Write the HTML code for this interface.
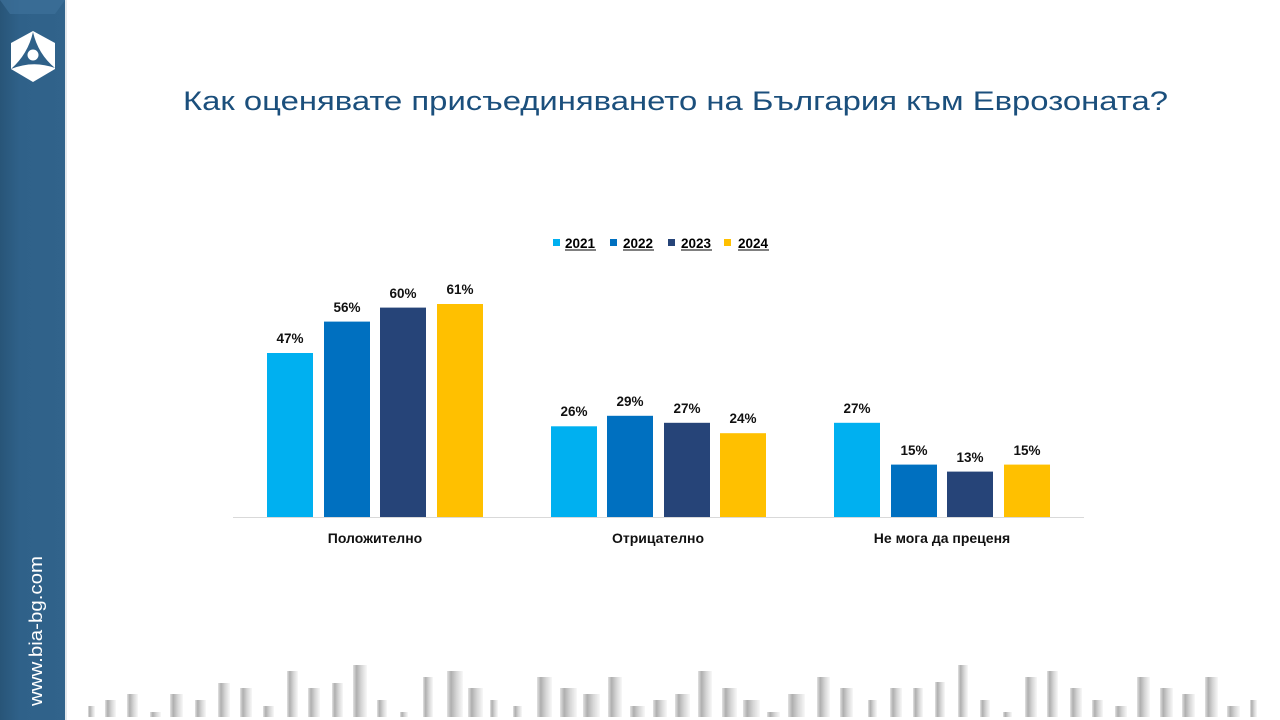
<!DOCTYPE html>
<html><head><meta charset="utf-8"><style>
html,body{margin:0;padding:0;background:#fff;}
svg{display:block;}
text{font-family:"Liberation Sans","Noto Sans CJK SC",sans-serif;}
</style></head><body>
<svg width="1280" height="720" viewBox="0 0 1280 720" xmlns="http://www.w3.org/2000/svg">
<defs>
<linearGradient id="side" x1="0" x2="1" y1="0" y2="0">
<stop offset="0" stop-color="#285578"/><stop offset="0.3" stop-color="#2f6189"/><stop offset="1" stop-color="#31638b"/>
</linearGradient>
<linearGradient id="dec" x1="0" x2="1" y1="0" y2="0">
<stop offset="0" stop-color="#e2e2e2"/><stop offset="0.25" stop-color="#afafaf"/><stop offset="0.6" stop-color="#d6d6d6"/><stop offset="1" stop-color="#f8f8f8"/>
</linearGradient>
</defs>
<rect x="0" y="0" width="1280" height="720" fill="#fff"/>
<rect x="0" y="0" width="65" height="720" fill="url(#side)"/>
<polygon points="0,0 65,0 55,14 10,14" fill="#3d709a" opacity="0.7"/>
<rect x="65" y="0" width="2" height="720" fill="#e4e8ec"/>
<polygon points="33,31 55,43 55,69 33,82 11,69 11,43" fill="#fff"/>
<path d="M33,32 Q38,54 55,68 Q33,60 11,69 Q28,54 33,32 Z" fill="#2f6189"/>
<circle cx="33" cy="55" r="5.5" fill="#fff"/>
<text transform="translate(42,706) rotate(-90)" font-size="18" fill="#fff" textLength="150" lengthAdjust="spacingAndGlyphs">www.bia-bg.com</text>
<text x="183" y="110" font-size="27" fill="#1b4f7c" textLength="985" lengthAdjust="spacingAndGlyphs">Как оценявате присъединяването на България към Еврозоната?</text>
<g font-size="13.5" font-weight="bold" fill="#000">
<rect x="553" y="239" width="7" height="7" fill="#00b0f0"/><text x="565" y="248">2021</text><rect x="565" y="249.5" width="31" height="1" fill="#000"/>
<rect x="610" y="239" width="7" height="7" fill="#0070c0"/><text x="623" y="248">2022</text><rect x="623" y="249.5" width="31" height="1" fill="#000"/>
<rect x="668" y="239" width="7" height="7" fill="#264478"/><text x="681" y="248">2023</text><rect x="681" y="249.5" width="31" height="1" fill="#000"/>
<rect x="724" y="239" width="7" height="7" fill="#ffc000"/><text x="738" y="248">2024</text><rect x="738" y="249.5" width="31" height="1" fill="#000"/>
</g>
<g>
<rect x="267" y="353" width="46" height="164" fill="#00b0f0"/>
<rect x="324" y="321.6" width="46" height="195.4" fill="#0070c0"/>
<rect x="380" y="307.6" width="46" height="209.4" fill="#264478"/>
<rect x="437" y="304" width="46" height="213" fill="#ffc000"/>
<rect x="551" y="426.3" width="46" height="90.7" fill="#00b0f0"/>
<rect x="607" y="415.8" width="46" height="101.2" fill="#0070c0"/>
<rect x="664" y="422.8" width="46" height="94.2" fill="#264478"/>
<rect x="720" y="433.2" width="46" height="83.8" fill="#ffc000"/>
<rect x="834" y="422.8" width="46" height="94.2" fill="#00b0f0"/>
<rect x="891" y="464.6" width="46" height="52.4" fill="#0070c0"/>
<rect x="947" y="471.6" width="46" height="45.4" fill="#264478"/>
<rect x="1004" y="464.6" width="46" height="52.4" fill="#ffc000"/>
</g>
<rect x="233" y="517" width="851" height="1" fill="#d9d9d9"/>
<g font-size="13.5" font-weight="bold" fill="#111" text-anchor="middle">
<text x="290" y="343">47%</text>
<text x="347" y="312">56%</text>
<text x="403" y="298">60%</text>
<text x="460" y="294">61%</text>
<text x="574" y="416">26%</text>
<text x="630" y="406">29%</text>
<text x="687" y="413">27%</text>
<text x="743" y="423">24%</text>
<text x="857" y="413">27%</text>
<text x="914" y="455">15%</text>
<text x="970" y="462">13%</text>
<text x="1027" y="455">15%</text>
</g>
<g font-size="14" font-weight="bold" fill="#111" text-anchor="middle">
<text x="375" y="543">Положително</text>
<text x="658" y="543">Отрицателно</text>
<text x="942" y="543">Не мога да преценя</text>
</g>
<g fill="url(#dec)">
<rect x="88" y="706" width="7" height="11"/>
<rect x="105" y="700" width="11" height="17"/>
<rect x="127" y="694" width="11" height="23"/>
<rect x="150" y="712" width="11" height="5"/>
<rect x="170" y="694" width="13" height="23"/>
<rect x="195" y="700" width="11" height="17"/>
<rect x="218" y="683" width="12" height="34"/>
<rect x="240" y="688" width="12" height="29"/>
<rect x="263" y="706" width="11" height="11"/>
<rect x="287" y="671" width="11" height="46"/>
<rect x="308" y="688" width="12" height="29"/>
<rect x="332" y="683" width="11" height="34"/>
<rect x="353" y="665" width="14" height="52"/>
<rect x="377" y="700" width="10" height="17"/>
<rect x="400" y="712" width="8" height="5"/>
<rect x="423" y="677" width="10" height="40"/>
<rect x="447" y="671" width="16" height="46"/>
<rect x="468" y="688" width="15" height="29"/>
<rect x="490" y="700" width="8" height="17"/>
<rect x="513" y="706" width="9" height="11"/>
<rect x="537" y="677" width="15" height="40"/>
<rect x="560" y="688" width="17" height="29"/>
<rect x="583" y="694" width="17" height="23"/>
<rect x="608" y="677" width="14" height="40"/>
<rect x="630" y="706" width="15" height="11"/>
<rect x="653" y="700" width="14" height="17"/>
<rect x="675" y="694" width="15" height="23"/>
<rect x="698" y="671" width="14" height="46"/>
<rect x="722" y="688" width="15" height="29"/>
<rect x="743" y="700" width="17" height="17"/>
<rect x="767" y="712" width="13" height="5"/>
<rect x="788" y="694" width="17" height="23"/>
<rect x="817" y="677" width="13" height="40"/>
<rect x="840" y="688" width="13" height="29"/>
<rect x="868" y="700" width="9" height="17"/>
<rect x="890" y="688" width="12" height="29"/>
<rect x="913" y="688" width="10" height="29"/>
<rect x="935" y="682" width="10" height="35"/>
<rect x="958" y="665" width="10" height="52"/>
<rect x="980" y="700" width="10" height="17"/>
<rect x="1003" y="712" width="9" height="5"/>
<rect x="1025" y="677" width="12" height="40"/>
<rect x="1047" y="671" width="11" height="46"/>
<rect x="1070" y="688" width="12" height="29"/>
<rect x="1092" y="700" width="11" height="17"/>
<rect x="1115" y="706" width="12" height="11"/>
<rect x="1137" y="677" width="13" height="40"/>
<rect x="1160" y="688" width="13" height="29"/>
<rect x="1182" y="694" width="13" height="23"/>
<rect x="1205" y="677" width="13" height="40"/>
<rect x="1227" y="706" width="13" height="11"/>
<rect x="1250" y="700" width="7" height="17"/>
</g>
</svg>
</body></html>
